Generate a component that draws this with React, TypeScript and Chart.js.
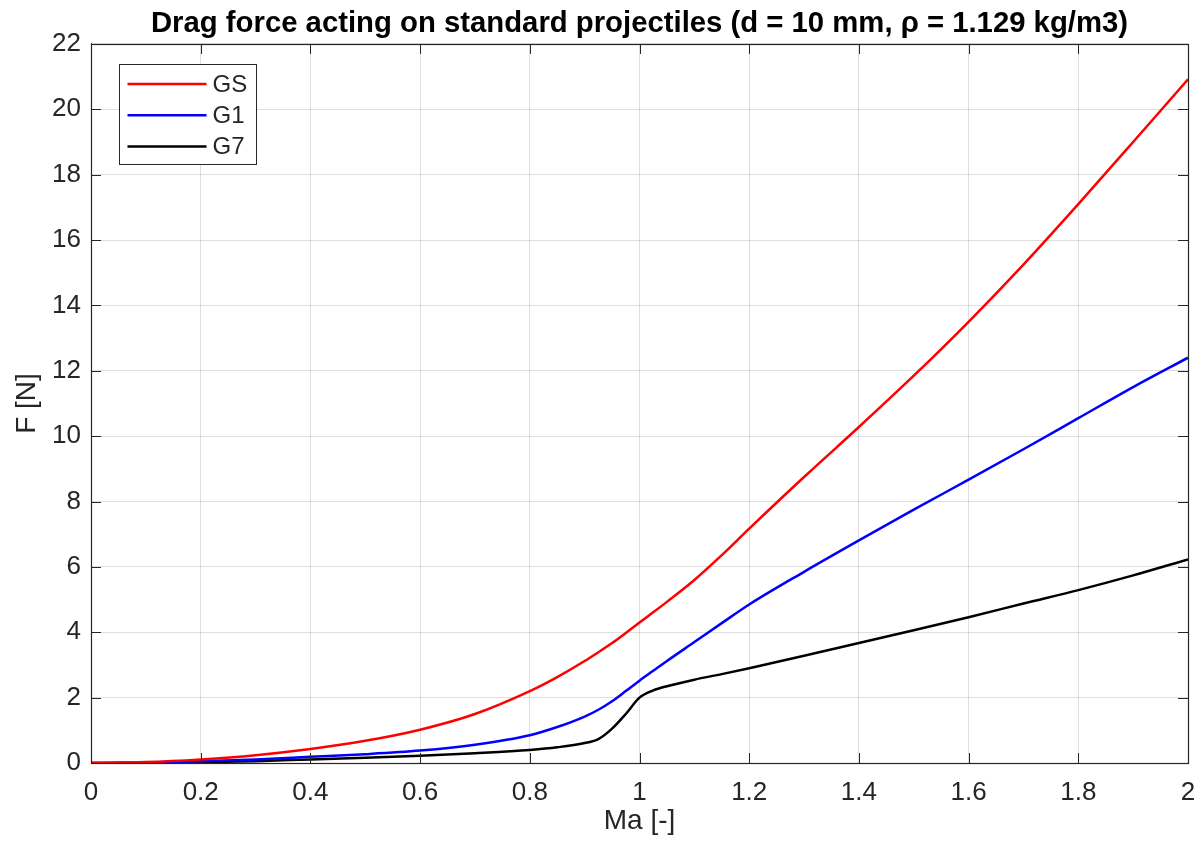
import React, { useEffect, useRef } from "react";
import { Chart, registerables } from "chart.js";

Chart.register(...registerables);

// ---- Data ----
const MACH = [
  0, 0.1, 0.2, 0.3, 0.4, 0.5, 0.6, 0.7, 0.8, 0.85, 0.9, 0.925, 0.95, 0.975, 1.0,
  1.025, 1.05, 1.1, 1.15, 1.2, 1.3, 1.4, 1.5, 1.6, 1.7, 1.8, 1.9, 2.0,
];
const F_GS = [
  0, 0.027, 0.11, 0.24, 0.43, 0.68, 1.02, 1.5, 2.2, 2.63, 3.12, 3.39, 3.67, 3.98, 4.3,
  4.61, 4.93, 5.6, 6.36, 7.17, 8.75, 10.28, 11.85, 13.5, 15.25, 17.1, 19.0, 20.92,
];
const F_G1 = [
  0, 0.013, 0.052, 0.11, 0.19, 0.27, 0.38, 0.56, 0.85, 1.1, 1.42, 1.63, 1.89, 2.2, 2.52,
  2.82, 3.12, 3.7, 4.28, 4.85, 5.85, 6.81, 7.75, 8.67, 9.6, 10.55, 11.5, 12.4,
];
const F_G7 = [
  0, 0.006, 0.025, 0.056, 0.11, 0.16, 0.22, 0.3, 0.4, 0.48, 0.61, 0.73, 1.05, 1.5, 2.0,
  2.22, 2.35, 2.55, 2.72, 2.9, 3.28, 3.67, 4.06, 4.46, 4.88, 5.29, 5.74, 6.23,
];
const SERIES_LABELS = ["GS", "G1", "G7"];
const SERIES_COLORS = ["#ff0000", "#0000ff", "#000000"];

const X_MIN = 0;
const X_MAX = 2;
const X_STEP = 0.2;
const Y_MIN = 0;
const Y_MAX = 22;
const Y_STEP = 2;

const TITLE = "Drag force acting on standard projectiles (d = 10 mm, \u03c1 = 1.129 kg/m3)";
const X_LABEL = "Ma [-]";
const Y_LABEL = "F [N]";

const FONT = "'Liberation Sans', Arial, Helvetica, sans-serif";
const AXIS_COLOR = "#262626";
const GRID_COLOR = "rgba(38,38,38,0.15)";

const frameAndTicks = {
  id: "frameAndTicks",
  afterDatasetsDraw(chart: any) {
    const { ctx, chartArea: a, scales } = chart;
    const L = 10;
    ctx.save();
    ctx.strokeStyle = AXIS_COLOR;
    ctx.lineWidth = 1;
    ctx.beginPath();
    scales.x.ticks.forEach((t: any) => {
      const px = Math.round(scales.x.getPixelForValue(t.value)) + 0.5;
      ctx.moveTo(px, a.bottom);
      ctx.lineTo(px, a.bottom - L);
      ctx.moveTo(px, a.top);
      ctx.lineTo(px, a.top + L);
    });
    scales.y.ticks.forEach((t: any) => {
      const py = Math.round(scales.y.getPixelForValue(t.value)) + 0.5;
      ctx.moveTo(a.left, py);
      ctx.lineTo(a.left + L, py);
      ctx.moveTo(a.right, py);
      ctx.lineTo(a.right - L, py);
    });
    ctx.stroke();
    ctx.lineWidth = 1.2;
    ctx.strokeRect(
      Math.round(a.left) + 0.5,
      Math.round(a.top) + 0.5,
      Math.round(a.right) - Math.round(a.left),
      Math.round(a.bottom) - Math.round(a.top)
    );
    ctx.restore();
  },
};

const insideLegend = {
  id: "insideLegend",
  afterDraw(chart: any) {
    const { ctx, chartArea: a } = chart;
    const x0 = Math.round(a.left) + 28.5;
    const y0 = Math.round(a.top) + 20.5;
    const w = 137;
    const h = 100;
    ctx.save();
    ctx.fillStyle = "#ffffff";
    ctx.fillRect(x0, y0, w, h);
    ctx.strokeStyle = AXIS_COLOR;
    ctx.lineWidth = 1;
    ctx.strokeRect(x0, y0, w, h);
    ctx.font = `24px ${FONT}`;
    ctx.textBaseline = "middle";
    ctx.textAlign = "left";
    chart.data.datasets.forEach((ds: any, i: number) => {
      const cy = y0 + 19.5 + i * 31.3;
      ctx.strokeStyle = ds.borderColor;
      ctx.lineWidth = 2.5;
      ctx.beginPath();
      ctx.moveTo(x0 + 8, cy);
      ctx.lineTo(x0 + 87, cy);
      ctx.stroke();
      ctx.fillStyle = AXIS_COLOR;
      ctx.fillText(ds.label, x0 + 93, cy + 1);
    });
    ctx.restore();
  },
};

export default function App() {
  const canvasRef = useRef<HTMLCanvasElement | null>(null);

  useEffect(() => {
    if (!canvasRef.current) return;
    const series = [F_GS, F_G1, F_G7];
    const chart = new Chart(canvasRef.current, {
      type: "line",
      data: {
        datasets: series.map((vals, i) => ({
          label: SERIES_LABELS[i],
          data: MACH.map((m, j) => ({ x: m, y: vals[j] })),
          borderColor: SERIES_COLORS[i],
          backgroundColor: SERIES_COLORS[i],
          borderWidth: 2.5,
          pointRadius: 0,
          cubicInterpolationMode: "monotone" as const,
          fill: false,
        })),
      },
      options: {
        animation: false,
        responsive: true,
        maintainAspectRatio: false,
        layout: { padding: { left: 0, right: 16, top: 0, bottom: 0 } },
        plugins: {
          legend: { display: false },
          tooltip: { enabled: false },
          title: {
            display: true,
            text: TITLE,
            fullSize: false,
            color: "#000000",
            font: { family: FONT, size: 29.3, weight: "bold", lineHeight: 1.2 },
            padding: { top: 6.5, bottom: 2.3 },
          },
        },
        scales: {
          x: {
            type: "linear",
            min: X_MIN,
            max: X_MAX,
            afterFit: (s: any) => {
              s.height = 84;
              s.paddingLeft = 0;
              s.paddingRight = 0;
            },
            ticks: {
              stepSize: X_STEP,
              color: AXIS_COLOR,
              font: { family: FONT, size: 26 },
              padding: 14,
              maxRotation: 0,
              callback: (v: any) => String(Math.round(Number(v) * 10) / 10),
            },
            grid: { color: GRID_COLOR, drawTicks: false, lineWidth: 1 },
            border: { display: true, color: AXIS_COLOR },
            title: {
              display: true,
              text: X_LABEL,
              color: AXIS_COLOR,
              font: { family: FONT, size: 28 },
              padding: { top: 0, bottom: 9 },
            },
          },
          y: {
            type: "linear",
            min: Y_MIN,
            max: Y_MAX,
            afterFit: (s: any) => {
              s.width = 91;
              s.paddingTop = 0;
              s.paddingBottom = 0;
            },
            ticks: {
              stepSize: Y_STEP,
              color: AXIS_COLOR,
              font: { family: FONT, size: 26 },
              padding: 10,
            },
            grid: { color: GRID_COLOR, drawTicks: false, lineWidth: 1 },
            border: { display: true, color: AXIS_COLOR },
            title: {
              display: true,
              text: Y_LABEL,
              color: AXIS_COLOR,
              font: { family: FONT, size: 28 },
              padding: { top: 10, bottom: 0 },
            },
          },
        },
      },
      plugins: [frameAndTicks, insideLegend],
    });
    return () => chart.destroy();
  }, []);

  return (
    <div
      style={{
        position: "fixed",
        left: 0,
        top: 0,
        width: 1204,
        height: 847,
        background: "#ffffff",
      }}
    >
      <canvas ref={canvasRef} />
    </div>
  );
}
